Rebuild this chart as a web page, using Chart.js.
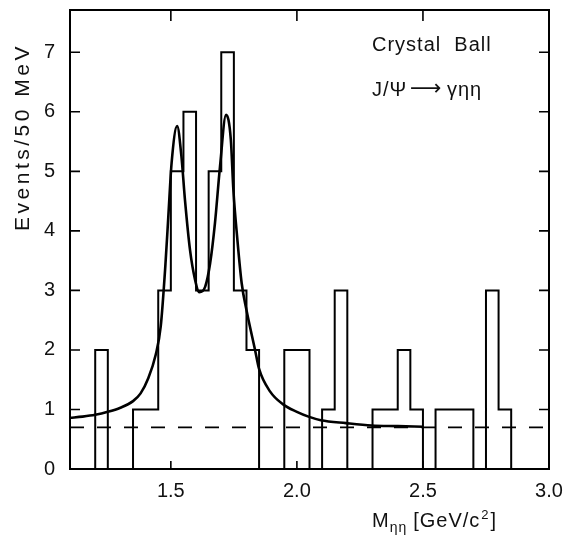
<!DOCTYPE html>
<html>
<head>
<meta charset="utf-8">
<script src="https://cdn.jsdelivr.net/npm/chart.js@4.4.1/dist/chart.umd.min.js"></script>
<style>
  html, body { margin: 0; padding: 0; background: #fff; }
  #wrap { width: 563px; height: 535px; }
</style>
</head>
<body>
<div id="wrap"><canvas id="chart" width="563" height="535"></canvas></div>
<script>
// eta-eta invariant mass, 50 MeV bins (lower edges, GeV/c^2)
const binLow = [
  1.10, 1.15, 1.20, 1.25, 1.30, 1.35, 1.40, 1.45, 1.50, 1.55,
  1.60, 1.65, 1.70, 1.75, 1.80, 1.85, 1.90, 1.95, 2.00, 2.05,
  2.10, 2.15, 2.20, 2.25, 2.30, 2.35, 2.40, 2.45, 2.50, 2.55,
  2.60, 2.65, 2.70, 2.75, 2.80, 2.85, 2.90, 2.95
];
const binHigh = 3.00;
const events = [
  0, 0, 2, 0, 0, 1, 1, 3, 5, 6,
  3, 5, 7, 3, 2, 0, 0, 2, 2, 0,
  1, 3, 0, 0, 1, 1, 2, 1, 0, 1,
  1, 1, 0, 3, 1, 0, 0, 0
];

// fitted curve (two resonances + flat background)
const fitX = [
  1.10, 1.15, 1.20, 1.25, 1.30, 1.35, 1.38, 1.41, 1.44, 1.46,
  1.478, 1.49, 1.503, 1.525, 1.542, 1.556, 1.576, 1.596, 1.613, 1.636,
  1.656, 1.675, 1.695, 1.719, 1.738, 1.748, 1.764, 1.781, 1.80, 1.834,
  1.85, 1.894, 1.944, 2.00, 2.046, 2.095, 2.195, 2.297, 2.40, 2.50
];
const fitY = [
  0.86, 0.88, 0.91, 0.96, 1.03, 1.14, 1.27, 1.52, 1.92, 2.40,
  3.40, 4.24, 5.14, 5.76, 5.25, 4.52, 3.68, 3.18, 2.97, 3.06,
  3.46, 4.13, 5.08, 5.95, 5.53, 4.69, 3.85, 3.12, 2.67, 2.00,
  1.68, 1.30, 1.09, 0.96, 0.88, 0.82, 0.77, 0.73, 0.72, 0.71
];

const background = 0.7;
const xTicks = [1.5, 2.0, 2.5, 3.0];
const yTicks = [0, 1, 2, 3, 4, 5, 6, 7];

const FONT = '"Liberation Sans", Arial, sans-serif';

const histPoints = binLow.map((x, i) => ({ x: x, y: events[i] }));
histPoints.push({ x: binHigh, y: 0 });

const fitPoints = fitX.map((x, i) => ({ x: x, y: fitY[i] }));
const bgPoints = [{ x: 1.10, y: background }, { x: 3.00, y: background }];

// frame, inward ticks and the text labels
const framePlugin = {
  id: 'frame',
  afterDraw(chart) {
    const { ctx, chartArea: a, scales } = chart;
    const xs = scales.x, ys = scales.y;
    ctx.save();
    ctx.strokeStyle = '#000';
    ctx.lineWidth = 2;
    ctx.strokeRect(a.left, a.top, a.right - a.left, a.bottom - a.top);

    ctx.lineWidth = 1.6;
    ctx.beginPath();
    yTicks.forEach(v => {
      if (v === 0) return;
      const py = ys.getPixelForValue(v);
      ctx.moveTo(a.left, py); ctx.lineTo(a.left + 10, py);
      ctx.moveTo(a.right, py); ctx.lineTo(a.right - 10, py);
    });
    xTicks.forEach(v => {
      if (v >= 3.0) return;
      const px = xs.getPixelForValue(v);
      ctx.moveTo(px, a.top); ctx.lineTo(px, a.top + 11);
      ctx.moveTo(px, a.bottom); ctx.lineTo(px, a.bottom - 8);
    });
    ctx.stroke();

    ctx.fillStyle = '#111';
    ctx.textBaseline = 'alphabetic';
    ctx.textAlign = 'left';
    ctx.font = '20px ' + FONT;
    ctx.letterSpacing = '1px';
    ctx.fillText('Crystal  Ball', 372, 51);
    ctx.fillText('J/\u03A8', 372, 96);
    ctx.fillText('\u03B3\u03B7\u03B7', 447, 96);
    ctx.font = '22px "DejaVu Sans", sans-serif';
    ctx.letterSpacing = '0px';
    ctx.fillText('\u27F6', 410, 95);

    // x axis title with subscript and superscript
    ctx.letterSpacing = '1px';
    let x = 372;
    const base = 527;
    ctx.font = '20px ' + FONT;
    ctx.fillText('M', x, base);
    x += ctx.measureText('M').width;
    ctx.font = '14px ' + FONT;
    ctx.fillText('\u03B7\u03B7', x, base + 5);
    x += ctx.measureText('\u03B7\u03B7').width + 6;
    ctx.font = '20px ' + FONT;
    ctx.fillText('[GeV/c', x, base);
    x += ctx.measureText('[GeV/c').width;
    ctx.font = '13px ' + FONT;
    ctx.fillText('2', x + 1, base - 8);
    x += ctx.measureText('2').width + 2;
    ctx.font = '20px ' + FONT;
    ctx.fillText(']', x, base);

    // y axis title
    ctx.translate(23, 137);
    ctx.rotate(-Math.PI / 2);
    ctx.textAlign = 'center';
    ctx.textBaseline = 'middle';
    ctx.font = '21px ' + FONT;
    ctx.letterSpacing = '3.5px';
    ctx.fillText('Events/50 MeV', 0, 0);
    ctx.restore();
  }
};

new Chart(document.getElementById('chart'), {
  type: 'line',
  data: {
    datasets: [
      {
        label: 'data',
        data: histPoints,
        stepped: true,
        borderColor: '#000',
        borderWidth: 2,
        pointRadius: 0,
        fill: false
      },
      {
        label: 'fit',
        data: fitPoints,
        cubicInterpolationMode: 'monotone',
        borderColor: '#000',
        borderWidth: 2.6,
        pointRadius: 0,
        fill: false
      },
      {
        label: 'background',
        data: bgPoints,
        borderColor: '#000',
        borderWidth: 1.8,
        borderDash: [14, 13],
        pointRadius: 0,
        fill: false
      }
    ]
  },
  options: {
    responsive: false,
    animation: false,
    layout: { padding: { top: 10, right: 14, left: 0, bottom: 0 } },
    plugins: {
      legend: { display: false },
      tooltip: { enabled: false }
    },
    scales: {
      x: {
        type: 'linear',
        min: 1.1,
        max: 3.0,
        grid: { display: false, drawTicks: false },
        border: { display: false },
        afterBuildTicks: (s) => { s.ticks = xTicks.map(v => ({ value: v })); },
        afterFit: (s) => { s.height = 66; s.paddingLeft = 0; s.paddingRight = 0; },
        ticks: {
          color: '#111',
          padding: 10,
          maxRotation: 0,
          font: { family: FONT, size: 20 },
          callback: (v) => v.toFixed(1)
        }
      },
      y: {
        type: 'linear',
        min: 0,
        max: 7.71,
        grid: { display: false, drawTicks: false },
        border: { display: false },
        afterBuildTicks: (s) => { s.ticks = yTicks.map(v => ({ value: v })); },
        afterFit: (s) => { s.width = 70; s.paddingTop = 0; s.paddingBottom = 0; },
        ticks: {
          color: '#111',
          padding: 15,
          font: { family: FONT, size: 20 },
          callback: (v) => String(v)
        }
      }
    }
  },
  plugins: [framePlugin]
});
</script>
</body>
</html>
